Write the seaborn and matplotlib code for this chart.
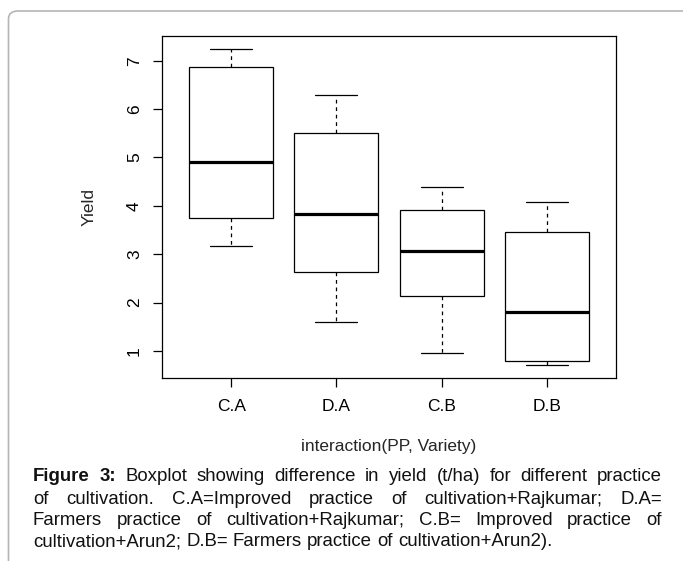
import pandas as pd
import numpy as np
import seaborn as sns
import matplotlib.pyplot as plt
from matplotlib.patches import FancyBboxPatch

# five-number summaries (min, lower hinge, median, upper hinge, max)
groups = ['C.A', 'D.A', 'C.B', 'D.B']
y_min = [3.16, 1.60, 0.95, 0.72]
y_q1 = [3.74, 2.64, 2.14, 0.80]
y_med = [4.90, 3.83, 3.07, 1.80]
y_q3 = [6.86, 5.51, 3.92, 3.46]
y_max = [7.25, 6.30, 4.40, 4.07]
y_ticks = [1, 2, 3, 4, 5, 6, 7]

rows = []
for i, g in enumerate(groups):
    for v in (y_min[i], y_q1[i], y_med[i], y_q3[i], y_max[i]):
        rows.append({'group': g, 'Yield': v})
df = pd.DataFrame(rows)

sns.set_theme(style="ticks")
plt.rcParams['font.family'] = ['Liberation Sans', 'DejaVu Sans']

W, H = 683, 561
fig = plt.figure(figsize=(W / 100, H / 100), dpi=100)
fig.patch.set_facecolor('white')

# rounded frame around the figure (right/bottom cut off by the page)
frame = FancyBboxPatch((8.5 / W, -0.2), 1.2, 1.2 - 11 / H,
                       boxstyle="round,pad=0,rounding_size=0.014",
                       transform=fig.transFigure, facecolor='none',
                       edgecolor='#b5b5b5', linewidth=1.2, zorder=0)
fig.patches.append(frame)

ax = fig.add_axes([162 / W, 183.3 / H, 454 / W, 342 / H])

sns.boxplot(data=df, x='group', y='Yield', order=groups, ax=ax,
            whis=(0, 100), width=0.8, color='white', linecolor='black',
            linewidth=0.9, fliersize=0,
            medianprops=dict(linewidth=2.3, color='black'),
            whiskerprops=dict(linestyle=(0, (3, 3)), color='black'),
            capprops=dict(color='black'))

ax.set_xlim(-0.66, 3.66)
ax.set_ylim(0.448, 7.517)
ax.set_yticks(y_ticks)
ax.set_yticklabels([str(t) for t in y_ticks], rotation=90, va='center')

for s in ax.spines.values():
    s.set_visible(True)
    s.set_color('black')
    s.set_linewidth(0.9)

ax.tick_params(axis='both', direction='out', length=6.5, width=0.9,
               colors='black', labelsize=12.5)
ax.tick_params(axis='y', pad=8)
ax.tick_params(axis='x', pad=8.5)

ax.set_xlabel('interaction(PP, Variety)', fontsize=12.5, labelpad=18)
ax.set_ylabel('Yield', fontsize=12.5, labelpad=22)

# justified caption
cap_lines = [
    [('Figure', True), ('3:', True)] + [(w, False) for w in
        'Boxplot showing difference in yield (t/ha) for different practice'.split()],
    [(w, False) for w in 'of cultivation. C.A=Improved practice of cultivation+Rajkumar; D.A='.split()],
    [(w, False) for w in 'Farmers practice of cultivation+Rajkumar; C.B= Improved practice of'.split()],
    [(w, False) for w in 'cultivation+Arun2; D.B= Farmers practice of cultivation+Arun2).'.split()],
]
baselines = [481, 503.5, 525, 546.5]
x0, x1 = 33, 662
cap_size = 13.4

renderer = fig.canvas.get_renderer()
space_t = fig.text(0, 0, 'a a', fontsize=cap_size)
aa_t = fig.text(0, 0, 'aa', fontsize=cap_size)
space_w = space_t.get_window_extent(renderer).width - aa_t.get_window_extent(renderer).width
space_t.remove()
aa_t.remove()

for li, (words, yb) in enumerate(zip(cap_lines, baselines)):
    texts = []
    for w, bold in words:
        t = fig.text(0, 1 - yb / H, w, fontsize=cap_size, va='baseline', ha='left',
                     fontweight='bold' if bold else 'normal', color='#111111')
        texts.append(t)
    widths = [t.get_window_extent(renderer).width for t in texts]
    if li < len(cap_lines) - 1:
        gap = (x1 - x0 - sum(widths)) / (len(texts) - 1)
    else:
        gap = space_w
    x = x0
    for t, wd in zip(texts, widths):
        t.set_x(x / W)
        x += wd + gap

fig.savefig('out.png', dpi=100, facecolor='white')
